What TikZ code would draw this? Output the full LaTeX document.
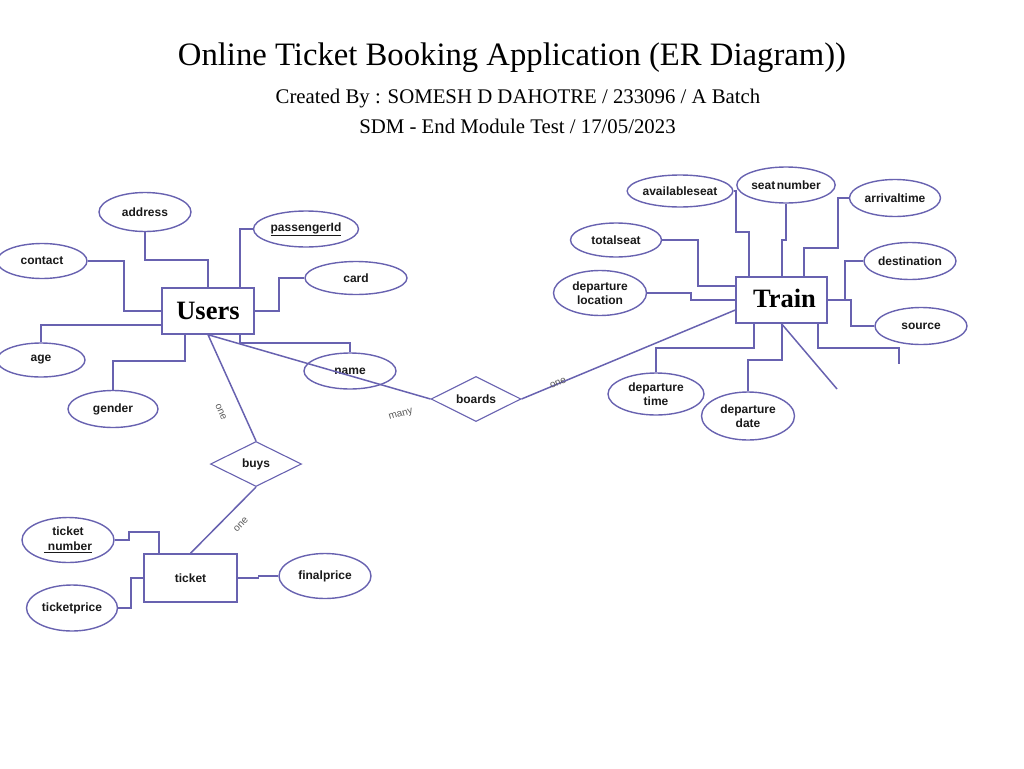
\documentclass[tikz,border=0pt]{standalone}
\usepackage{fontspec}
\setmainfont{Liberation Serif}
\newfontfamily\arialf{Liberation Sans}
\usetikzlibrary{shapes.geometric,calc}
\definecolor{lc}{RGB}{104,98,176}
\definecolor{lblgray}{RGB}{90,90,90}
\tikzset{
  attr/.style={ellipse, draw=lc, line width=1.4pt, inner sep=0pt, align=center,
    text=black!90, font=\arialf\bfseries\fontsize{12}{14}\selectfont},
  ent/.style={rectangle, draw=lc, line width=1.4pt, fill=white, inner sep=0pt,
    font=\bfseries\fontsize{26.5}{28}\selectfont},
  went/.style={rectangle, draw=lc, line width=1.4pt, inner sep=0pt,
    text=black!90, font=\arialf\bfseries\fontsize{12}{14}\selectfont},
  rel/.style={diamond, draw=lc, line width=1.1pt, inner sep=0pt, aspect=2,
    minimum width=90pt, minimum height=45pt,
    text=black!90, font=\arialf\bfseries\fontsize{12}{14}\selectfont},
  conn/.style={draw=lc, line width=1.5pt},
  cardl/.style={text=lblgray, inner sep=0pt, font=\arialf\fontsize{10}{11}\selectfont},
}
\begin{document}
\begin{tikzpicture}[x=1pt,y=-1pt]
\useasboundingbox (0,0) rectangle (1024,768);

% titles
\node[font=\fontsize{32.7}{36}\selectfont] (title) at (512,58) {Online Ticket Booking Application (ER Diagram))};
\node[font=\fontsize{20.8}{22}\selectfont] (sub1) at (518,99) {Created By : SOMESH D DAHOTRE / 233096 / A Batch};
\node[font=\fontsize{20.8}{22}\selectfont] (sub2) at (517.5,126) {SDM - End Module Test / 17/05/2023};

% Users entity and attributes
\node[ent, minimum width=92pt, minimum height=46pt] (Users) at (208,311) {Users};
\node[attr, minimum width=92pt, minimum height=39pt] (address) at (145,212) {address};
\node[attr, minimum width=105pt, minimum height=36pt] (passengerId) at (306,229) {\underline{passengerId}};
\node[attr, minimum width=90pt, minimum height=35pt] (contact) at (42,261) {contact};
\node[attr, minimum width=102pt, minimum height=33pt] (card) at (356,278) {card};
\node[attr, minimum width=88pt, minimum height=34pt] (age) at (41,360) {age};
\node[attr, minimum width=90pt, minimum height=37pt] (gender) at (113,409) {gender};

% relationships
\node[rel] (boards) at (476,399) {boards};
\node[rel, minimum width=91pt] (buys) at (256,464) {buys};

% connectors of Users
\draw[conn] (address.south) |- (208,260) -- (Users.north);
\draw[conn] (passengerId.west) -| ([xshift=32pt]Users.north);
\draw[conn] (contact.east) -| (124,311) -- (Users.west);
\draw[conn] (card.west) -| (279,311) -- (Users.east);
\draw[conn] (age.north) |- ([yshift=-14pt]Users.west);
\draw[conn] (gender.north) |- (185,361) -- ([xshift=-23pt]Users.south);
\draw[conn] (Users.south) -- (buys.north);

\node[attr, minimum width=92pt, minimum height=36pt] (name) at (350,371) {name};
\draw[conn] (name.north) |- (240,343) -- ([xshift=32pt]Users.south);
\draw[conn] (Users.south) -- (boards.west);

% ticket entity
\node[went, minimum width=93pt, minimum height=48pt] (ticket) at (190.5,578) {ticket};
\node[attr, minimum width=92pt, minimum height=45pt] (ticketnum) at (68,540) {ticket\\[1pt]\underline{\hspace{4pt}number}};
\node[attr, minimum width=91pt, minimum height=46pt] (ticketprice) at (72,608) {ticketprice};
\node[attr, minimum width=92pt, minimum height=45pt] (finalprice) at (325,576) {finalprice};
\draw[conn] (buys.south) -- (ticket.north);
\draw[conn] (ticketnum.east) -| (129,532) -| ([xshift=-31.5pt]ticket.north);
\draw[conn] (ticketprice.east) -| (131,578) -- (ticket.west);
\draw[conn] (ticket.east) -- ++(21,0) |- (finalprice.west);

% Train entity and attributes
\node[ent, minimum width=91pt, minimum height=46pt] (Train) at (781.5,300) {\raisebox{3pt}{\hspace{6pt}Train}};
\node[attr, minimum width=97pt, minimum height=32pt] (availableseat) at (680,191) {availableseat};
\node[attr, minimum width=92pt, minimum height=36pt] (seatnumber) at (786,185) {seat\hspace{1.5pt}number};
\node[attr, minimum width=91pt, minimum height=37pt] (arrivaltime) at (895,198) {arrivaltime};
\node[attr, minimum width=91pt, minimum height=34pt] (totalseat) at (616,240) {totalseat};
\node[attr, minimum width=92pt, minimum height=37pt] (destination) at (910,261) {destination};
\node[attr, minimum width=93pt, minimum height=45pt] (deploc) at (600,293) {departure\\location};
\node[attr, minimum width=92pt, minimum height=37pt] (source) at (921,326) {source};
\node[attr, minimum width=96pt, minimum height=42pt] (deptime) at (656,394) {departure\\time};
\node[attr, minimum width=93pt, minimum height=48pt] (depdate) at (748,416) {departure\\date};

\draw[conn] (boards.east) -- ([yshift=-10pt]Train.west);
\draw[conn] (availableseat.east) -| (736,232) -| ([xshift=-32.5pt]Train.north);
\draw[conn] (seatnumber.south) |- (782,240) -- ([xshift=0.5pt]Train.north);
\draw[conn] (arrivaltime.west) -| (838,248) -| ([xshift=22.5pt]Train.north);
\draw[conn] (totalseat.east) -| (698,286) -- ([yshift=14pt]Train.west);
\draw[conn] (deploc.east) -| (691,300) -- (Train.west);
\draw[conn] (destination.west) -| (845,300) -- (Train.east);
\draw[conn] (source.west) -| (851,300) -- (Train.east);
\draw[conn] (deptime.north) |- (754,348) -- ([xshift=-27.5pt]Train.south);
\draw[conn] (depdate.north) |- (782,360) -- ([xshift=0.5pt]Train.south);
\coordinate (cut1) at (837,389);
\coordinate (cut2) at (899,364);
\draw[conn] (Train.south) -- (cut1);
\draw[conn] ([xshift=36.5pt]Train.south) |- (899,348) -- (cut2);

% cardinality labels
\node[cardl, rotate=16] (many) at (401,415) {many};
\node[cardl, rotate=22] (one1) at (558,383) {one};
\node[cardl, rotate=-66] (one2) at (221,412) {one};
\node[cardl, rotate=47] (one3) at (241,525) {one};
\end{tikzpicture}
\end{document}
